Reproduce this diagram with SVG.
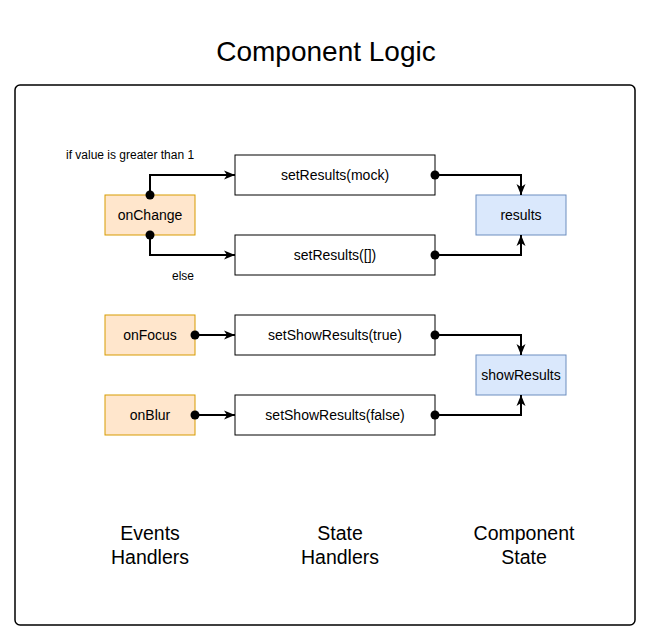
<svg xmlns="http://www.w3.org/2000/svg" width="651" height="641" viewBox="0 0 651 641">
<style>
text{font-family:"Liberation Sans",Arial,Helvetica,sans-serif;fill:#000}
.n{font-size:14px;text-anchor:middle}
.lbl{font-size:12px}
.col{font-size:19.5px;text-anchor:middle}
.ev{fill:#ffe6cc;stroke:#d79b00;stroke-width:1}
.sh{fill:#ffffff;stroke:#000;stroke-width:1}
.st{fill:#dae8fc;stroke:#6c8ebf;stroke-width:1}
.c{fill:none;stroke:#000;stroke-width:2;marker-start:url(#dot);marker-end:url(#arr)}
</style>
<defs>
<marker id="arr" markerUnits="userSpaceOnUse" markerWidth="12" markerHeight="10" viewBox="0 0 12 10" refX="11" refY="5" orient="auto">
<path d="M0,0.5 L11,5 L0,9.5 L3,5 Z" fill="#000"/>
</marker>
<marker id="dot" markerUnits="userSpaceOnUse" markerWidth="10" markerHeight="10" viewBox="0 0 10 10" refX="5" refY="5" orient="auto">
<circle cx="5" cy="5" r="4.5" fill="#000"/>
</marker>
</defs>
<rect width="651" height="641" fill="#fff"/>
<text x="326" y="61" style="font-size:28px;text-anchor:middle">Component Logic</text>
<rect x="15" y="85" width="620" height="540" rx="5" fill="none" stroke="#000" stroke-width="1.5"/>
<text class="lbl" x="66" y="159">if value is greater than 1</text>
<text class="lbl" x="172" y="280">else</text>
<g id="onChange"><rect class="ev" x="105" y="195" width="90" height="40"/><text class="n" x="150" y="220">onChange</text></g>
<g id="onFocus"><rect class="ev" x="105" y="315" width="90" height="40"/><text class="n" x="150" y="340">onFocus</text></g>
<g id="onBlur"><rect class="ev" x="105" y="395" width="90" height="40"/><text class="n" x="150" y="420">onBlur</text></g>
<g id="setResultsMock"><rect class="sh" x="235" y="155" width="200" height="40"/><text class="n" x="335" y="180">setResults(mock)</text></g>
<g id="setResultsEmpty"><rect class="sh" x="235" y="235" width="200" height="40"/><text class="n" x="335" y="260">setResults([])</text></g>
<g id="setShowResultsTrue"><rect class="sh" x="235" y="315" width="200" height="40"/><text class="n" x="335" y="340">setShowResults(true)</text></g>
<g id="setShowResultsFalse"><rect class="sh" x="235" y="395" width="200" height="40"/><text class="n" x="335" y="420">setShowResults(false)</text></g>
<g id="results"><rect class="st" x="476" y="195" width="90" height="40"/><text class="n" x="521" y="220">results</text></g>
<g id="showResults"><rect class="st" x="476" y="355" width="90" height="40"/><text class="n" x="521" y="380">showResults</text></g>
<g id="connectors">
<path class="c" d="M150,195 V175 H235"/>
<path class="c" d="M150,235 V255 H235"/>
<path class="c" d="M435,175 H521 V195"/>
<path class="c" d="M435,255 H521 V235"/>
<path class="c" d="M195,335 H235"/>
<path class="c" d="M195,415 H235"/>
<path class="c" d="M435,335 H521 V355"/>
<path class="c" d="M435,415 H521 V395"/>
</g>
<text class="col" x="150" y="540">Events</text>
<text class="col" x="150" y="564">Handlers</text>
<text class="col" x="340" y="540">State</text>
<text class="col" x="340" y="564">Handlers</text>
<text class="col" x="524" y="540">Component</text>
<text class="col" x="524" y="564">State</text>
</svg>
